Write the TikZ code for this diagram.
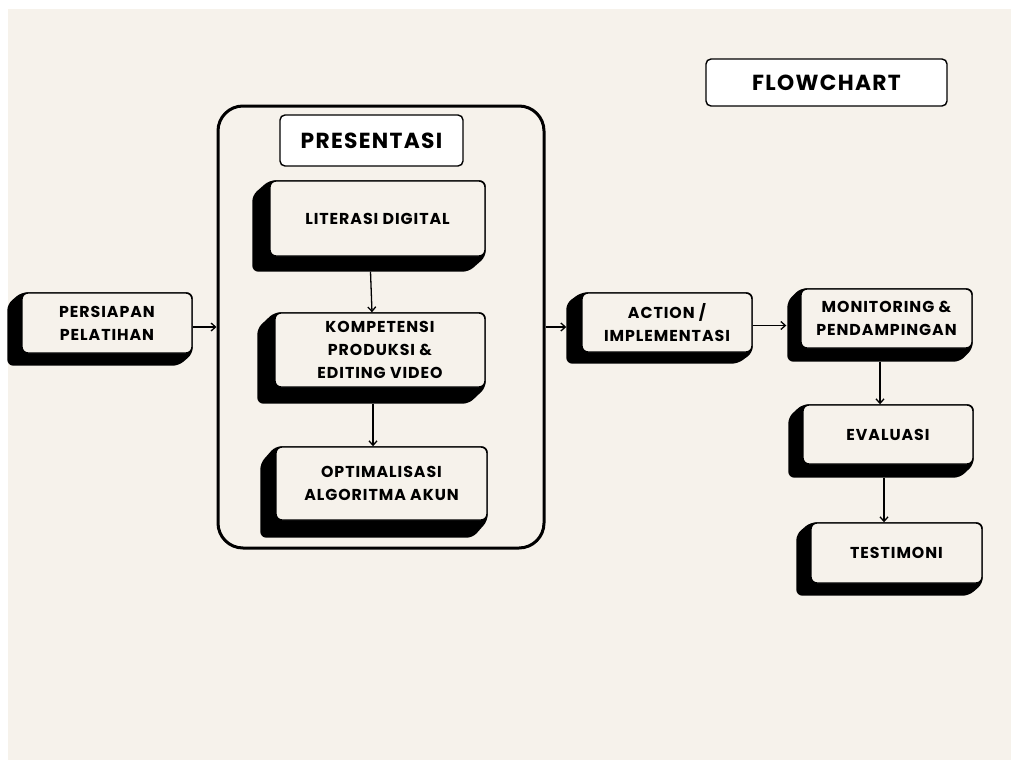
\documentclass[tikz,border=0pt]{standalone}
\usepackage{fontspec}
\setmainfont{Poppins}[LetterSpace=6]
\usetikzlibrary{arrows.meta, backgrounds, calc}

\definecolor{paper}{RGB}{246,242,235}

\tikzset{
    stepbox/.style={draw, line width=1.4pt, rounded corners=6pt, fill=paper,
        align=center, inner sep=0pt, font=\bfseries\fontsize{15.8}{23}\selectfont},
    titlebox/.style={draw, line width=1.4pt, rounded corners=5pt, fill=white,
        inner sep=0pt, font=\bfseries\fontsize{21.8}{26}\selectfont},
    flow/.style={line width=1.3pt, -{Straight Barb[length=4.5pt,width=8pt]}},
}

% black block behind a box, pushed down-left by (#2,#3)
\newcommand{\extrude}[3]{%
    \begin{scope}[on background layer]
        \fill[rounded corners=6pt] (#1.north west) -- (#1.north east) -- (#1.south east)
            -- ([shift={(-#2,#3)}]#1.south east) -- ([shift={(-#2,#3)}]#1.south west)
            -- ([shift={(-#2,#3)}]#1.north west) -- cycle;
    \end{scope}}

\begin{document}
\begin{tikzpicture}[x=1pt, y=-1pt]
    \useasboundingbox (0,0) rectangle (1011,760);
    \begin{scope}[on background layer]
        \fill[white] (0,0) rectangle (1011,760);
        \fill[paper] (8,9) rectangle (1011,760);
    \end{scope}

    % title
    \node[titlebox, minimum width=241pt, minimum height=47pt] (flowchart) at (826.5,82.5) {FLOWCHART};

    % presentation group
    \node[draw, line width=3pt, rounded corners=25pt, minimum width=326pt, minimum height=442pt] (presentasi) at (381,327) {};
    \node[titlebox, minimum width=183pt, minimum height=51pt] (judul) at (371.5,140.5) {PRESENTASI};

    \node[stepbox, minimum width=215pt, minimum height=75pt] (literasi) at (377.5,218.5) {LITERASI DIGITAL};
    \node[stepbox, minimum width=210pt, minimum height=74pt] (kompetensi) at (380,350) {KOMPETENSI\\PRODUKSI \&\\EDITING VIDEO};
    \node[stepbox, minimum width=211pt, minimum height=73pt] (optimal) at (381.5,483.5) {OPTIMALISASI\\ALGORITMA AKUN};

    % left and right steps
    \node[stepbox, minimum width=170pt, minimum height=60pt] (persiapan) at (107,323) {PERSIAPAN\\PELATIHAN};
    \node[stepbox, minimum width=170pt, minimum height=59pt] (action) at (667,322.5) {ACTION /\\IMPLEMENTASI};
    \node[stepbox, minimum width=171pt, minimum height=59pt] (monitoring) at (886.5,318.5) {MONITORING \&\\PENDAMPINGAN};
    \node[stepbox, minimum width=170pt, minimum height=59pt] (evaluasi) at (888,434.5) {EVALUASI};
    \node[stepbox, minimum width=171pt, minimum height=60pt] (testimoni) at (896.5,553) {TESTIMONI};

    \extrude{persiapan}{14}{12}
    \extrude{literasi}{17}{15}
    \extrude{kompetensi}{17}{16}
    \extrude{optimal}{15}{17}
    \extrude{action}{15}{11}
    \extrude{monitoring}{13}{13}
    \extrude{evaluasi}{14}{13}
    \extrude{testimoni}{14}{12}

    % connectors
    \draw[flow] ([shift={(0,4)}]persiapan.east) -- ([shift={(0,4)}]persiapan.east -| presentasi.west);
    \draw[flow] ([shift={(-7,15)}]literasi.south) -- ([shift={(-8,0)}]kompetensi.north);
    \draw[flow] ([shift={(-7,16)}]kompetensi.south) -- ([shift={(-8.5,0)}]optimal.north);
    \draw[flow] (presentasi.east) -- ($(presentasi.east -| action.west)+(-15,0)$);
    \draw[flow] ([shift={(0,3)}]action.east) -- ($(action.east -| monitoring.west)+(-14,3)$);
    \draw[flow] ([shift={(-6.5,13)}]monitoring.south) -- ([shift={(-8,0)}]evaluasi.north);
    \draw[flow] ([shift={(-4,13)}]evaluasi.south) -- ([shift={(-12.5,0)}]testimoni.north);
\end{tikzpicture}
\end{document}
